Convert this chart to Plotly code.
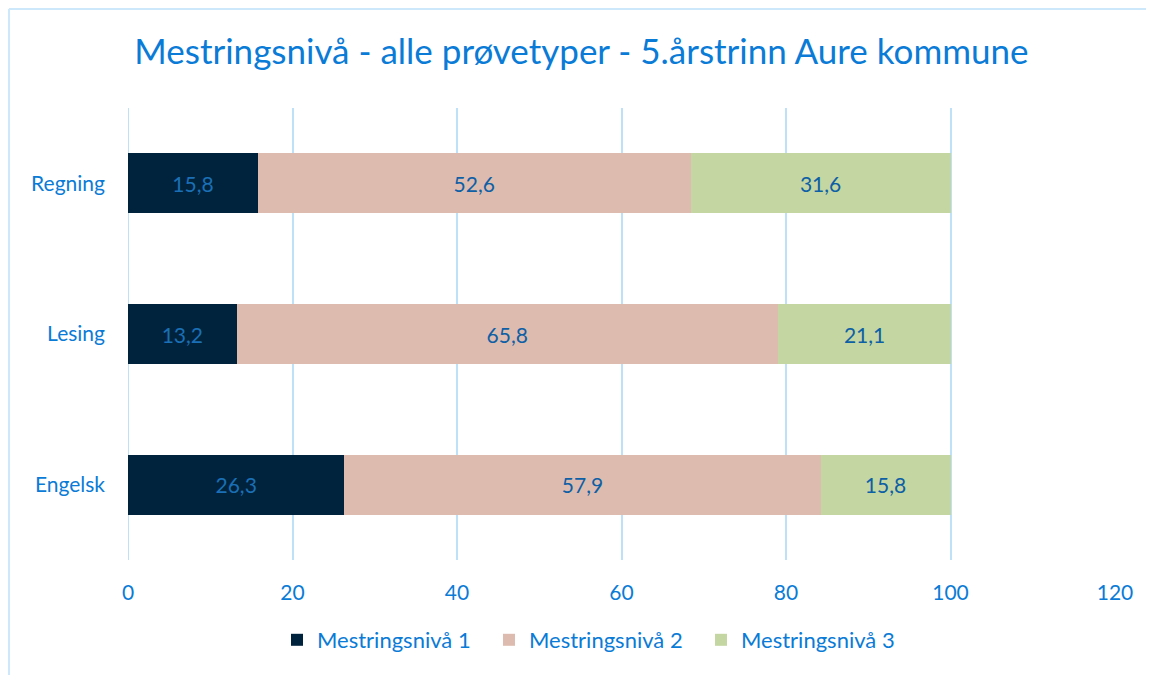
import plotly.graph_objects as go

categories = ["Regning", "Lesing", "Engelsk"]
series_names = ["Mestringsnivå 1", "Mestringsnivå 2", "Mestringsnivå 3"]
niva1 = [15.8, 13.2, 26.3]
niva2 = [52.6, 65.8, 57.9]
niva3 = [31.6, 21.1, 15.8]
x_ticks = [0, 20, 40, 60, 80, 100, 120]

colors = ["#00233D", "#DDBBAF", "#C4D6A1"]
text_colors = ["#1A6FB5", "#0D5FA6", "#0D5FA6"]
FONT = "Lato"
BLUE = "#0A7BD6"
GRID = "#BFE1F8"

fig = go.Figure()
for name, vals, c, tc in zip(series_names, [niva1, niva2, niva3], colors, text_colors):
    fig.add_trace(go.Bar(
        y=categories, x=vals, name=name, orientation="h",
        marker=dict(color=c, line=dict(width=0)),
        text=vals, texttemplate="%{x:.1f}", textposition="inside",
        insidetextanchor="middle",
        textfont=dict(family=FONT, size=21, color=tc),
        hoverinfo="skip",
    ))

W, H = 1146, 667
L, R, T, B = 120, 39, 100, 115
PW, PH = W - L - R, H - T - B

fig.update_layout(
    barmode="stack",
    bargap=0.6,
    separators=", ",
    width=W, height=H,
    margin=dict(l=L, r=R, t=T, b=B),
    paper_bgcolor="white", plot_bgcolor="white",
    title=dict(text="Mestringsnivå - alle prøvetyper - 5.årstrinn Aure kommune",
               x=0.5004, xanchor="center", y=1 - 44 / H, yanchor="middle",
               font=dict(family=FONT, size=35, color=BLUE)),
    xaxis=dict(range=[0, 120], tickvals=x_ticks, showgrid=True,
               gridcolor=GRID, gridwidth=2, zeroline=False, showline=False,
               tickfont=dict(family=FONT, size=21, color=BLUE),
               ticks="", ticklabelstandoff=18),
    yaxis=dict(categoryorder="array", categoryarray=categories[::-1],
               showgrid=False, showline=False, zeroline=False, ticks="",
               tickfont=dict(family=FONT, size=21, color=BLUE),
               ticklabelstandoff=22),
    legend=dict(orientation="h", x=(587 - L) / PW, xanchor="center",
                y=-(632 - (T + PH)) / PH, yanchor="middle",
                font=dict(family=FONT, size=22, color=BLUE),
                traceorder="normal", itemwidth=30, entrywidth=167),
    showlegend=True,
    shapes=[dict(type="line", xref="x", yref="paper", x0=0, x1=0, y0=0, y1=1,
                 line=dict(color=GRID, width=2), layer="below"),
            dict(type="line", xref="paper", yref="paper",
                 x0=(1 - L) / PW, x1=(W + 20 - L) / PW,
                 y0=1 + (T - 1) / PH, y1=1 + (T - 1) / PH,
                 line=dict(color="#CDE8FA", width=2)),
            dict(type="line", xref="paper", yref="paper",
                 x0=(1 - L) / PW, x1=(1 - L) / PW,
                 y0=-(B + 20) / PH, y1=1 + (T - 1) / PH,
                 line=dict(color="#CDE8FA", width=2))],
)

fig.write_html("out.html", config={"displayModeBar": False})
